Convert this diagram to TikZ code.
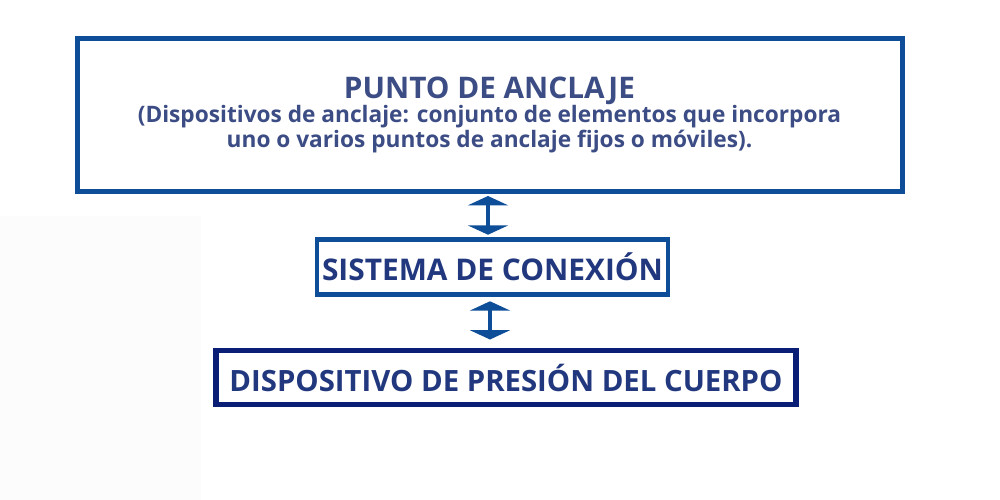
\documentclass[tikz,border=0pt]{standalone}
\usepackage{fontspec}
\setmainfont{Open Sans}
\usetikzlibrary{arrows.meta}
\definecolor{boxblue}{RGB}{14,78,152}
\definecolor{navy}{RGB}{10,30,118}
\definecolor{txtA}{RGB}{60,76,132}
\definecolor{txtB}{RGB}{34,56,126}
\definecolor{faint}{RGB}{252,252,252}
\tikzset{
  box/.style={draw, rectangle, inner sep=0pt, outer sep=0pt, align=center, font=\bfseries},
  conn/.style={draw=boxblue, line width=2.7pt,
    {Triangle[width=30pt,length=7pt]}-{Triangle[width=30pt,length=7pt]}, fill=boxblue},
}
\begin{document}
\begin{tikzpicture}[x=0.75pt,y=-0.75pt]
\useasboundingbox (0,0) rectangle (1000,500);
\fill[faint] (0,216) rectangle (201,500);
% top box
\node[box, draw=boxblue, line width=3.75pt, minimum width=618.75pt, minimum height=114.75pt,
      text=txtA, font=\bfseries\fontsize{17}{18.4}\selectfont] (top) at (489.5,114.5)
  {\fontsize{22.3}{18.4}\selectfont PUNTO DE ANCLAJE\\
   \fontsize{17}{18.4}\selectfont (Dispositivos de anclaje: conjunto de elementos que incorpora\\
   \fontsize{17}{18.4}\selectfont uno o varios puntos de anclaje fijos o móviles).};
% middle box
\node[box, draw=boxblue, line width=3.4pt, minimum width=263.25pt, minimum height=40.9pt,
      text=txtB, font=\bfseries\fontsize{22.4}{27}\selectfont] (mid) at (492.5,267)
  {SISTEMA DE CONEXIÓN};
% bottom box
\node[box, draw=navy, line width=4.2pt, minimum width=435pt, minimum height=40.5pt,
      text=txtB, font=\bfseries\fontsize{22}{26}\selectfont] (bot) at (506,377.5)
  {DISPOSITIVO DE PRESIÓN DEL CUERPO};
% connectors
\coordinate (a1) at (488,0);
\coordinate (a2) at (490,0);
\draw[conn, shorten <=3.75pt, shorten >=3.75pt] (top.south -| a1) -- (mid.north -| a1);
\draw[conn, shorten <=5.25pt, shorten >=8.25pt] (mid.south -| a2) -- (bot.north -| a2);
\end{tikzpicture}
\end{document}
